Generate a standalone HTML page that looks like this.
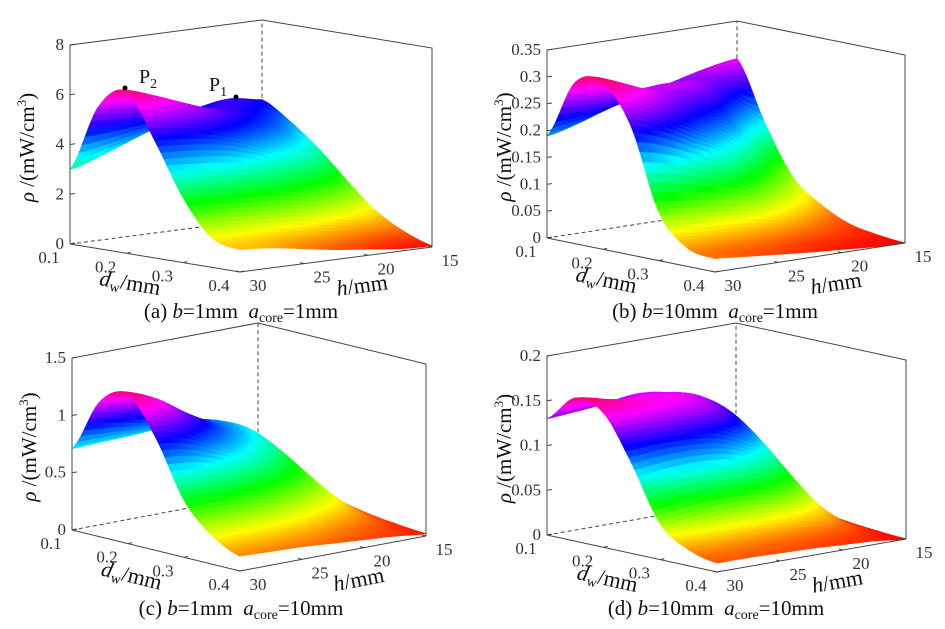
<!DOCTYPE html>
<html><head><meta charset="utf-8"><style>
html,body{margin:0;padding:0;background:#fff;}
svg{display:block;font-family:"Liberation Serif",serif;}
text{white-space:pre;}
</style></head><body>
<svg id="fig" width="945" height="629" viewBox="0 0 945 629" xmlns="http://www.w3.org/2000/svg"></svg>
<script>
// ---- data ----
const dwVals = [0.1, 0.15, 0.2, 0.25, 0.3, 0.35, 0.4];
const hVals = [30, 27.5, 25, 22.5, 20, 17.5, 15];
// rows: h values, columns: dw values
const rhoA = [
  [3.0, 5.7, 6.5, 4.7, 2.6, 1.2, 0.9],
  [3.4, 5.5, 6.1, 4.6, 2.5, 1.2, 0.8],
  [3.9, 5.3, 5.6, 4.4, 2.4, 1.1, 0.6],
  [4.4, 5.1, 5.1, 4.0, 2.3, 1.0, 0.4],
  [4.8, 5.0, 4.6, 3.5, 2.0, 0.8, 0.25],
  [5.0, 4.7, 4.0, 2.9, 1.6, 0.6, 0.1],
  [4.8, 4.1, 3.2, 2.1, 1.1, 0.45, 0.05]
];
const rhoB = [
  [0.19, 0.30, 0.31, 0.24, 0.09, 0.035, 0.025],
  [0.205, 0.28, 0.29, 0.22, 0.085, 0.03, 0.02],
  [0.225, 0.27, 0.26, 0.19, 0.08, 0.028, 0.015],
  [0.24, 0.27, 0.23, 0.16, 0.07, 0.022, 0.01],
  [0.255, 0.26, 0.20, 0.11, 0.05, 0.015, 0.006],
  [0.27, 0.22, 0.13, 0.07, 0.03, 0.01, 0.002],
  [0.28, 0.17, 0.08, 0.04, 0.015, 0.005, 0.0]
];
const rhoC = [
  [0.71, 1.18, 1.3, 0.98, 0.5, 0.25, 0.13],
  [0.72, 1.1, 1.2, 0.92, 0.5, 0.25, 0.12],
  [0.73, 0.98, 1.02, 0.8, 0.46, 0.23, 0.11],
  [0.75, 0.88, 0.86, 0.68, 0.4, 0.2, 0.09],
  [0.75, 0.8, 0.72, 0.54, 0.32, 0.15, 0.07],
  [0.68, 0.66, 0.54, 0.38, 0.22, 0.1, 0.05],
  [0.5, 0.33, 0.2, 0.12, 0.07, 0.04, 0.02]
];
const rhoD = [
  [0.13, 0.16, 0.15, 0.10, 0.04, 0.018, 0.01],
  [0.133, 0.152, 0.147, 0.103, 0.045, 0.018, 0.01],
  [0.137, 0.147, 0.142, 0.103, 0.047, 0.017, 0.009],
  [0.14, 0.145, 0.137, 0.098, 0.046, 0.016, 0.008],
  [0.133, 0.137, 0.122, 0.083, 0.04, 0.014, 0.006],
  [0.11, 0.108, 0.088, 0.058, 0.027, 0.01, 0.004],
  [0.075, 0.04, 0.02, 0.01, 0.005, 0.002, 0.0]
];
const zTicksA = [0, 2, 4, 6, 8];
const zTicksB = [0, 0.05, 0.1, 0.15, 0.2, 0.25, 0.3, 0.35];
const zTicksC = [0, 0.5, 1, 1.5];
const zTicksD = [0, 0.05, 0.1, 0.15, 0.2];
const dwTicks = [0.1, 0.2, 0.3, 0.4];
const hTicks = [30, 25, 20, 15];
const captionB = ["1", "10", "1", "10"];
const captionA = ["1", "1", "10", "10"];
const panelLetters = ["a", "b", "c", "d"];

const panels = [
  {id:'a', data:rhoA, ticks:zTicksA, Lx:70, Ly:244, fx:170, fy:28, bx:192, by:-25, zpx:199, cx:241, cy:318},
  {id:'b', data:rhoB, ticks:zTicksB, Lx:547, Ly:238, fx:168, fy:34, bx:190, by:-29, zpx:188, cx:715, cy:318},
  {id:'c', data:rhoC, ticks:zTicksC, Lx:72, Ly:530, fx:168, fy:41, bx:186, by:-35, zpx:172, cx:241, cy:615},
  {id:'d', data:rhoD, ticks:zTicksD, Lx:547, Ly:535, fx:170, fy:37, bx:189, by:-33, zpx:179, cx:716, cy:615}
];

const NS = "http://www.w3.org/2000/svg";
const svg = document.getElementById('fig');
function mk(tag, attrs, parent){ const e=document.createElementNS(NS,tag); for(const k in attrs) e.setAttribute(k, attrs[k]); (parent||svg).appendChild(e); return e; }

function cr(p0,p1,p2,p3,t){ return 0.5*((2*p1)+(-p0+p2)*t+(2*p0-5*p1+4*p2-p3)*t*t+(-p0+3*p1-3*p2+p3)*t*t*t); }
function interp1(arr, t){ const n=arr.length; let k=Math.min(Math.floor(t), n-2); if(k<0)k=0; const f=t-k; const g=i=>arr[Math.max(0,Math.min(n-1,i))]; return cr(g(k-1),g(k),g(k+1),g(k+2),f); }
function lin(arr, t){ const n=arr.length; let k=Math.min(Math.floor(t), n-2); const f=t-k; return arr[k]+(arr[k+1]-arr[k])*f; }
function surfVal(grid, ti, tj){ const col = grid.map(row=>interp1(row, tj)); return Math.max(0, interp1(col, ti)); }

panels.forEach((p, pi) => {
  const g = mk('g', {});
  
  
  const zmax = p.ticks[p.ticks.length-1];
  const dmax = Math.max(...p.data.map(r=>Math.max(...r)));
  const proj = (dw, h, z) => { const u=(dw-0.1)/0.3, v=(30-h)/15; return [p.Lx+u*p.fx+v*p.bx, p.Ly+u*p.fy+v*p.by - z/zmax*p.zpx]; };
  const P = (dw,h,z)=>proj(dw,h,z).map(n=>n.toFixed(1)).join(',');
  const dashed = mk('g', {stroke:'#444','stroke-width':1,'stroke-dasharray':'4,3',fill:'none'}, g);
  
  
  mk('polyline',{points:P(0.1,30,0)+' '+P(0.1,15,0)+' '+P(0.1,15,zmax)}, dashed);
  const sg = mk('g', {}, g);
  
  
  const N = 56, nr = hVals.length-1, nc = dwVals.length-1;
  const pts = [];
  for(let i=0;i<=N;i++){ pts.push([]); for(let j=0;j<=N;j++){
    const ti=i/N*nr, tj=j/N*nc;
    const dw=lin(dwVals,tj), h=lin(hVals,ti), z=surfVal(p.data,ti,tj);
    pts[i].push({xy:proj(dw,h,z), z, u:(dw-0.1)/0.3, v:(30-h)/15});
  }}
  const quads=[];
  for(let i=0;i<N;i++) for(let j=0;j<N;j++){
    const a=pts[i][j], b=pts[i][j+1], c=pts[i+1][j+1], d=pts[i+1][j];
    quads.push({q:[a,b,c,d], depth:(a.u+c.u)/2-(a.v+c.v)/2, z:(a.z+b.z+c.z+d.z)/4});
  }
  quads.sort((x,y)=>x.depth-y.depth);
  quads.forEach(q=>{
    const hue = Math.max(0, Math.min(335, 330*q.z/dmax));
    const col = 'hsl('+hue.toFixed(1)+',100%,50%)';
    const poly = mk('polygon',{points:q.q.map(o=>o.xy[0].toFixed(1)+','+o.xy[1].toFixed(1)).join(' '), fill:col, stroke:col,'stroke-width':0.8,'stroke-linejoin':'round'}, sg);
    
    
  });
  const box = mk('g', {stroke:'#444','stroke-width':1,fill:'none'}, g);
  
  
  mk('polyline',{points:P(0.1,30,0)+' '+P(0.1,30,zmax)+' '+P(0.1,15,zmax)+' '+P(0.4,15,zmax)+' '+P(0.4,15,0)}, box);
  mk('polyline',{points:P(0.1,30,0)+' '+P(0.4,30,0)+' '+P(0.4,15,0)}, box);
  p.ticks.forEach(t=>{
    const [x,y]=proj(0.1,30,t);
    mk('line',{x1:x,y1:y,x2:x+5,y2:y-0.7},box);
    const tx = mk('text',{x:x-6,y:y+5,'font-size':17,fill:'#333','text-anchor':'end'}, g);
    
    
    tx.textContent = String(t);
  });
  dwTicks.forEach(t=>{
    const [x,y]=proj(t,30,0);
    mk('line',{x1:x,y1:y,x2:x+4,y2:y-1},box);
    const tx = mk('text',{x:x-21,y:y+19,'font-size':17,fill:'#333','text-anchor':'middle'}, g);
    
    
    tx.textContent = t.toFixed(1);
  });
  hTicks.forEach(t=>{
    const [x,y]=proj(0.4,t,0);
    mk('line',{x1:x,y1:y,x2:x-4,y2:y-1},box);
    const tx = mk('text',{x:x+18,y:y+19,'font-size':17,fill:'#333','text-anchor':'middle'}, g);
    
    
    tx.textContent = String(t);
  });
  const ang1 = Math.atan2(p.fy,p.fx)*180/Math.PI, ang2 = Math.atan2(p.by,p.bx)*180/Math.PI;
  const dc = [p.Lx+p.fx*0.5-26, p.Ly+p.fy*0.5+32];
  const dwt = mk('text',{x:dc[0],y:dc[1],'font-size':22,fill:'#111','text-anchor':'middle',transform:'rotate('+ang1.toFixed(1)+' '+dc[0]+' '+dc[1]+')'}, g);
  
  
  dwt.innerHTML = '<tspan font-style="italic">d</tspan><tspan font-size="14" dy="4">w</tspan><tspan dy="-4">/mm</tspan>';
  const hc = [p.Lx+p.fx+p.bx*0.5+27, p.Ly+p.fy+p.by*0.5+33];
  const ht = mk('text',{x:hc[0],y:hc[1],'font-size':22,fill:'#111','text-anchor':'middle',transform:'rotate('+ang2.toFixed(1)+' '+hc[0]+' '+hc[1]+')'}, g);
  
  
  ht.innerHTML = '<tspan font-style="italic">h</tspan>/mm';
  const zc = [p.Lx-43, p.Ly-p.zpx*0.5+3];
  const zt = mk('text',{x:zc[0],y:zc[1]+7,'font-size':21,fill:'#111','text-anchor':'middle',transform:'rotate(-90 '+zc[0]+' '+zc[1]+')'}, g);
  
  
  zt.innerHTML = '<tspan font-style="italic">ρ</tspan> /(mW/cm<tspan font-size="13" dy="-8">3</tspan><tspan dy="8">)</tspan>';
  const cap = mk('text',{x:p.cx,y:p.cy,'font-size':21,fill:'#111','text-anchor':'middle'}, g);
  
  
  cap.innerHTML = '('+panelLetters[pi]+') <tspan font-style="italic">b</tspan>='+captionB[pi]+'mm  <tspan font-style="italic">a</tspan><tspan font-size="14" dy="4">core</tspan><tspan dy="-4">='+captionA[pi]+'mm</tspan>';
});

const ann = mk('g',{});


const d2 = mk('circle',{cx:125,cy:88,r:2.5,fill:'#000'},ann);


const d1 = mk('circle',{cx:236,cy:97,r:2.5,fill:'#000'},ann);


const t2 = mk('text',{x:139,y:83,'font-size':20,fill:'#111'},ann);


t2.innerHTML = 'P<tspan font-size="14" dy="5">2</tspan>';
const t1 = mk('text',{x:209,y:91,'font-size':20,fill:'#111'},ann);


t1.innerHTML = 'P<tspan font-size="14" dy="5">1</tspan>';
</script>
</body></html>
